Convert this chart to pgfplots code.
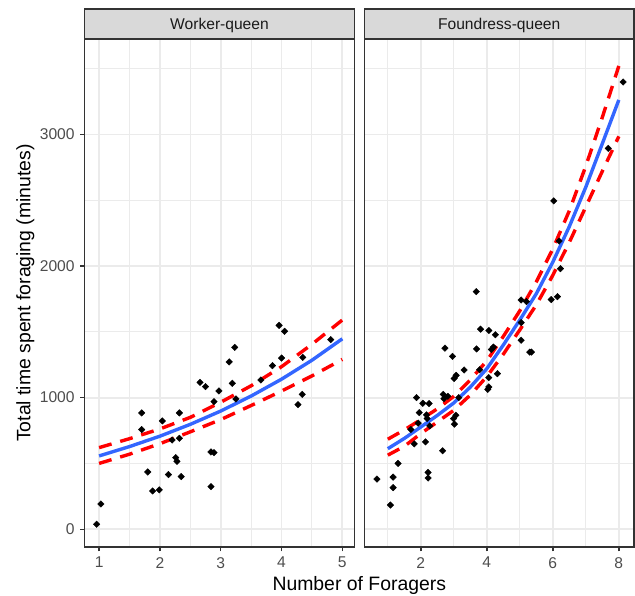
\documentclass[border=0pt]{standalone}
\usepackage{fontspec}
\setmainfont{Liberation Sans}
\usepackage{pgfplots}
\pgfplotsset{compat=1.18}
\usetikzlibrary{calc}
\definecolor{fitblue}{HTML}{3366FF}
\definecolor{grey92}{HTML}{EBEBEB}
\definecolor{grey85}{HTML}{D9D9D9}
\definecolor{grey30}{HTML}{4D4D4D}
\definecolor{grey20}{HTML}{333333}
\definecolor{grey10}{HTML}{1A1A1A}

\newcommand{\ticksize}{\fontsize{15.6bp}{18bp}\selectfont}
\newcommand{\titlesize}{\fontsize{19.4bp}{23bp}\selectfont}

\pgfplotsset{
  facet/.style={
    scale only axis, height=508bp,
    ymin=-135, ymax=3725,
    ytick={0,1000,2000,3000}, minor ytick={500,1500,2500,3500},
    grid=both,
    major grid style={grey92, line width=1.8bp},
    minor grid style={grey92, line width=0.9bp},
    axis line style={grey20, line width=1.4bp},
    tick align=outside, major tick length=4.4bp, minor tick length=0pt,
    major tick style={grey20, line width=1.4bp},
    tick pos=left,
    ticklabel style={font=\ticksize, text=grey30, inner sep=0pt},
    xticklabel style={yshift=-5.6bp},
    yticklabel style={xshift=-5.3bp},
    /pgf/number format/assume math mode=true,
    /pgf/number format/1000 sep={},
    scaled ticks=false,
  },
  pts/.style={only marks, mark=square*, mark size=2.3bp,
    mark options={rotate=45, draw=black, fill=black}},
  fit/.style={fitblue, line width=3.4bp, no marks},
  band/.style={red, line width=3.4bp, no marks, dash pattern=on 13bp off 9bp},
}

\begin{document}
\begin{tikzpicture}
\useasboundingbox (-84.5bp,-49bp) rectangle (550.5bp,547bp);

% --- Worker-queen ---
\begin{axis}[facet, name=wq, at={(0,0)}, anchor=south west,
    width=270bp, xmin=0.76, xmax=5.2,
    xtick={1,2,3,4,5}, minor xtick={1.5,2.5,3.5,4.5},
    ylabel={Total time spent foraging (minutes)},
    ylabel style={at={(axis description cs:0,0.5)}, anchor=base,
                  yshift=54bp, font=\titlesize, text=black, inner sep=0pt},
]
\addplot[pts] coordinates {
 (0.96,38) (1.03,192) (1.70,884) (1.70,757) (1.80,435) (1.88,291) (1.99,299)
 (2.04,823) (2.14,415) (2.20,678) (2.26,544) (2.28,516) (2.32,884) (2.32,691)
 (2.35,400) (2.66,1116) (2.75,1084) (2.84,587) (2.89,582) (2.84,324) (2.89,970)
 (2.97,1051) (3.14,1271) (3.19,1109) (3.23,1382) (3.25,990) (3.66,1134)
 (3.85,1243) (3.96,1549) (4.00,1301) (4.05,1504) (4.27,947) (4.34,1025)
 (4.35,1306) (4.81,1441)
};
\addplot[fit] coordinates {
 (1,557) (1.5,628) (2,707) (2.5,797) (3,898) (3.5,1012) (4,1140) (4.5,1284) (5,1447)
};
\addplot[band] coordinates {
 (1,620) (1.5,688) (2,762) (2.5,850) (3,965) (3.5,1090) (4,1235) (4.5,1405) (5,1590)
};
\addplot[band] coordinates {
 (1,500) (1.5,570) (2,650) (2.5,740) (3,833) (3.5,940) (4,1050) (4.5,1165) (5,1290)
};
\end{axis}

% --- Foundress-queen ---
\begin{axis}[facet, name=fq, at={(279.9bp,0)}, anchor=south west,
    width=269.6bp, xmin=0.29, xmax=8.46,
    xtick={2,4,6,8}, minor xtick={1,3,5,7},
    yticklabels={}, ytick style={draw=none},
]
\addplot[pts] coordinates {
 (0.67,381) (1.08,184) (1.16,396) (1.16,316) (1.31,500) (1.70,758) (1.80,649)
 (1.87,1000) (1.92,806) (1.95,886) (2.06,957) (2.14,664) (2.17,869) (2.19,841)
 (2.22,432) (2.22,389) (2.25,955) (2.27,785) (2.66,596) (2.68,1025) (2.70,992)
 (2.73,1376) (2.82,1010) (2.96,1313) (2.99,841) (3.02,798) (3.06,866)
 (3.01,1146) (3.07,1169) (3.15,1000) (3.31,1210) (3.68,1805) (3.69,1370)
 (3.78,1212) (3.81,1520) (4.03,1063) (4.06,1081) (4.06,1152) (4.06,1510)
 (4.14,1366) (4.20,1384) (4.26,1478) (4.32,1182) (5.04,1742) (5.20,1730)
 (5.04,1570) (5.04,1436) (5.30,1346) (5.35,1346) (5.95,1745) (6.14,1767)
 (6.23,1980) (6.19,2190) (6.03,2495) (7.68,2894) (8.13,3398)
};
\addplot[fit] coordinates {
 (1,612) (1.5,690) (2,777) (2.5,865) (3,960) (3.5,1080) (4,1220) (4.5,1400)
 (5,1590) (5.5,1790) (6,2030) (6.5,2300) (7,2600) (7.5,2930) (8,3262)
};
\addplot[band] coordinates {
 (1,684) (1.5,755) (2,833) (2.5,915) (3,1010) (3.5,1135) (4,1280) (4.5,1465)
 (5,1660) (5.5,1880) (6,2130) (6.5,2420) (7,2760) (7.5,3130) (8,3520)
};
\addplot[band] coordinates {
 (1,563) (1.5,630) (2,727) (2.5,815) (3,904) (3.5,1020) (4,1160) (4.5,1330)
 (5,1515) (5.5,1705) (6,1930) (6.5,2180) (7,2450) (7.5,2720) (8,2985)
};
\end{axis}

% facet strips
\foreach \p/\lab in {wq/Worker-queen, fq/Foundress-queen}{
  \draw[grey20, line width=1.4bp, fill=grey85]
    (\p.north west) rectangle ($(\p.north east)+(0,30bp)$);
  \node[anchor=base, font=\ticksize, text=grey10, inner sep=0pt]
    at ($(\p.north)+(0,9.3bp)$) {\lab};
}
% x axis title shared by both panels
\node[anchor=base, font=\titlesize, inner sep=0pt] at (274.8bp,-43.7bp)
  {Number of Foragers};
\end{tikzpicture}
\end{document}
